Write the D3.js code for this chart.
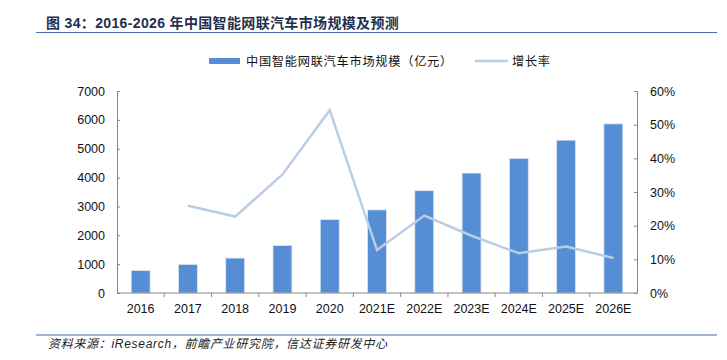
<!DOCTYPE html>
<html>
<head>
<meta charset="utf-8">
<script src="https://cdn.jsdelivr.net/npm/d3@7"></script>
<style>
  body { margin: 0; background: #fff; }
  svg { display: block; }
</style>
</head>
<body>
<div id="chart"></div>
<script>
const categories = ['2016', '2017', '2018', '2019', '2020', '2021E', '2022E', '2023E', '2024E', '2025E', '2026E'];
// market size, 100M yuan
const marketSize = [780, 990, 1210, 1645, 2545, 2880, 3545, 4155, 4665, 5295, 5860];
// growth rate, % (no value for 2016)
const growthRate = [null, 25.9, 22.7, 35.2, 54.3, 12.8, 23.0, 17.0, 11.8, 13.8, 10.4];
const leftTicks = [0, 1000, 2000, 3000, 4000, 5000, 6000, 7000];
const rightTicks = [0, 10, 20, 30, 40, 50, 60];

const titleText = '图 34：2016-2026 年中国智能网联汽车市场规模及预测';
const sourceText = '资料来源：iResearch，前瞻产业研究院，信达证券研发中心';
const barLabel = '中国智能网联汽车市场规模（亿元）';
const lineLabel = '增长率';

const width = 727;
const height = 360;
const plot = { left: 117, right: 637, top: 91, bottom: 293 };

const barColor = '#558ED5';
const lineColor = '#B9CDE5';
const axisColor = '#868686';
const font = '"Liberation Sans", Arial, "Noto Sans CJK SC", sans-serif';

const svg = d3.select('#chart')
  .append('svg')
  .attr('width', width)
  .attr('height', height);

// title + rule lines
svg.append('text')
  .attr('x', 46)
  .attr('y', 28)
  .style('font-family', font)
  .style('font-size', '14px')
  .style('font-weight', 'bold')
  .style('letter-spacing', '0.35px')
  .style('fill', '#1F2F4F')
  .text(titleText);

svg.append('line')
  .attr('x1', 36).attr('x2', 717)
  .attr('y1', 32.5).attr('y2', 32.5)
  .attr('stroke', '#4A70AE')
  .attr('stroke-width', 1.2);

svg.append('line')
  .attr('x1', 36).attr('x2', 717)
  .attr('y1', 335).attr('y2', 335)
  .attr('stroke', '#A3B4CE')
  .attr('stroke-width', 2);

svg.append('text')
  .attr('x', 48)
  .attr('y', 348)
  .style('font-family', font)
  .style('font-size', '12px')
  .style('font-style', 'italic')
  .style('letter-spacing', '0.7px')
  .style('fill', '#222')
  .text(sourceText);

// scales
const x = d3.scaleBand()
  .domain(categories)
  .range([plot.left, plot.right])
  .paddingInner(0.6)
  .paddingOuter(0.3);

const yLeft = d3.scaleLinear().domain([0, 7000]).range([plot.bottom, plot.top]);
const yRight = d3.scaleLinear().domain([0, 60]).range([plot.bottom, plot.top]);

// bars
svg.append('g')
  .selectAll('rect')
  .data(marketSize)
  .join('rect')
  .attr('x', (d, i) => x(categories[i]))
  .attr('y', (d) => yLeft(d))
  .attr('width', x.bandwidth())
  .attr('height', (d) => yLeft(0) - yLeft(d))
  .attr('fill', barColor)
  .attr('stroke', '#DCE6F2')
  .attr('stroke-width', 0.8);

// growth line
const line = d3.line()
  .defined((d) => d != null)
  .x((d, i) => x(categories[i]) + x.bandwidth() / 2)
  .y((d) => yRight(d));

svg.append('path')
  .datum(growthRate)
  .attr('d', line)
  .attr('fill', 'none')
  .attr('stroke', lineColor)
  .attr('stroke-width', 2.5);

// axes
const styleAxis = (g) => {
  g.select('.domain').attr('stroke', axisColor);
  g.selectAll('.tick line').attr('stroke', axisColor);
  g.selectAll('.tick text')
    .style('font-family', font)
    .style('font-size', '12.5px')
    .style('fill', '#111');
};

svg.append('g')
  .attr('transform', `translate(${plot.left},0)`)
  .call(d3.axisLeft(yLeft).tickValues(leftTicks).tickSize(-3).tickPadding(12).tickSizeOuter(0)
    .tickFormat(d3.format('d')))
  .call(styleAxis);

svg.append('g')
  .attr('transform', `translate(${plot.right},0)`)
  .call(d3.axisRight(yRight).tickValues(rightTicks).tickSize(-3).tickPadding(13).tickSizeOuter(0)
    .tickFormat((d) => d + '%'))
  .call(styleAxis);

// x axis: ticks sit between categories
const xAxis = svg.append('g').attr('transform', `translate(0,${plot.bottom})`);
xAxis.append('line')
  .attr('x1', plot.left).attr('x2', plot.right)
  .attr('y1', 0).attr('y2', 0)
  .attr('stroke', axisColor);
const step = x.step();
xAxis.selectAll('.sep')
  .data(categories.slice(1))
  .join('line')
  .attr('x1', (d) => x(d) - (step - x.bandwidth()) / 2)
  .attr('x2', (d) => x(d) - (step - x.bandwidth()) / 2)
  .attr('y1', 0).attr('y2', 4)
  .attr('stroke', axisColor);
xAxis.selectAll('.lbl')
  .data(categories)
  .join('text')
  .attr('x', (d) => x(d) + x.bandwidth() / 2)
  .attr('y', 20)
  .attr('text-anchor', 'middle')
  .style('font-family', font)
  .style('font-size', '12.5px')
  .style('fill', '#111')
  .text((d) => d);

// legend
const legend = svg.append('g');
legend.append('rect')
  .attr('x', 209).attr('y', 58)
  .attr('width', 31).attr('height', 6)
  .attr('fill', barColor);
legend.append('text')
  .attr('x', 246).attr('y', 65.5)
  .style('font-family', font)
  .style('font-size', '12.2px')
  .style('letter-spacing', '0.75px')
  .style('fill', '#111')
  .text(barLabel);
legend.append('line')
  .attr('x1', 475).attr('x2', 508)
  .attr('y1', 61).attr('y2', 61)
  .attr('stroke', lineColor)
  .attr('stroke-width', 2.5);
legend.append('text')
  .attr('x', 512).attr('y', 65.5)
  .style('font-family', font)
  .style('font-size', '12.2px')
  .style('letter-spacing', '0.75px')
  .style('fill', '#111')
  .text(lineLabel);
</script>
</body>
</html>
